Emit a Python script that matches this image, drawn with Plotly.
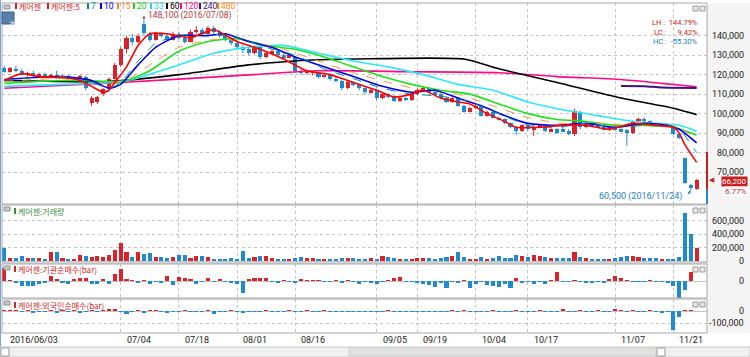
import plotly.graph_objects as go

# ---------------- data (prices in KRW) ----------------
tick_idx = [0, 20, 30, 40, 50, 64, 71, 81, 90, 105, 115]
tick_text = ["2016/06/03", "07/04", "07/18", "08/01", "08/16", "09/05", "09/19",
             "10/04", "10/17", "11/07", "11/21"]

open_k = [123.5,121.5,123,122,120,121,119.5,120.5,119,120,118.5,119.5,118,118.5,119,105.5,106,110,113,118,
          125,133,139,136.5,146,141,138,141,140,138,141,139,137,142,143,141,144,142,140,138,
          136,134,133,131,134,129,131,132,130,129,129,122,121,121,121,119,120,118,117,113,
          116,115,113,111,112,108,110,109,106.5,108,107,110,112,113,111,110,108,106,108,104,
          101,103,104,99,101,98,97,95,93,91,94,92,93,94,91,92,92,91,89.5,101,
          93,95,94,93,92,93,92,91.5,90,96,97.5,96,95,94,94.5,93,89.5,77,63.5,61.5]
high_k = [124.5,124,124.5,123,121.5,122,121,121,120.5,122,120,120,119,120,119.5,109,109,113,118.5,126,
          134,140,141,141,148.1,142,142,142,141,142,142,140,143,145,144,145,145,143,141,139,
          137,135,134,135,134.5,132,133,132.5,131,131,129.5,123,122.5,122,121.5,121,120.5,119,117.5,117,
          116.5,115.5,113.5,113,112.5,111,110.5,109.5,109,108.5,111,113,114,113.5,112,110.5,108.5,108.5,108.5,104.5,
          103.5,105,104.5,101.5,101.5,98.5,97.5,95.5,93.5,94.5,94.5,94,94.5,94.5,92.5,92.5,93.5,92,102.5,101.5,
          95.5,95.5,95,93.5,93.5,93.5,92.5,92,96.5,98,98,96.5,95.5,95,95,93.5,90,77.5,64,66.5]
low_k = [121,121,121.5,119.5,119,119,119,118.5,118,118,118,117.5,117,118,112,104,105,109,112.5,117.5,
         124,131,135,136,140,137,137.5,139,137,137.5,138,136,136.5,141,140,140.5,141,139,137,135,
         133,131,130,130.5,128,128.5,130,129,128,128.5,121,120,120,119.5,118,118.5,117,116,112,112.5,
         114,112,110,110.5,107,107.5,108,106,106,106.5,106.5,109.5,111.5,110.5,109.5,107.5,105.5,105.5,103.5,100.5,
         100.5,102.5,98.5,98.5,97.5,96.5,94.5,92.5,89,90.5,91.5,88.5,92.5,90.5,90.5,89.5,90.5,89,88.5,92,
         92.5,93.5,92.5,91.5,91,91.5,90.5,83.5,89.5,95.5,95.5,94.5,93.5,93,93,89,87,64,60.5,61]
close_k = [121.5,123.5,122,120,121,119.5,120.5,119,120,118.5,119.5,118,118.5,119,113,108,108.5,112.5,118,125,
           133,139,136.5,140,141.5,138,141,140,138,141,139,137,142,143,141,144,142,140,138,136,
           134,133,131,134,129,131,132,130,129,130,122,121,121,121,119,120,118,117,113,116,
           115,113,111,112,108,110,109,106.5,108,107,110,112,113,111,110,108,106,108,104,101,
           103,104,99,101,98,97,95,93,91,94,92,93,94,91,92,90,91,90,101.5,93,
           95,94,93,92,93,92,91,90,96,97.5,96,95,94,94.5,93,89.5,87.5,64.5,62,66.2]

volume_k = [195,50,40,80,40,40,45,35,130,140,45,35,35,90,80,55,80,60,90,165,
            275,130,60,140,105,115,60,55,40,55,90,95,40,70,80,60,20,35,30,40,
            35,150,40,55,70,80,40,35,30,35,45,60,40,50,35,30,20,15,50,40,
            45,30,35,40,35,70,55,40,35,30,15,40,40,40,30,40,60,75,130,55,
            30,30,60,30,40,70,50,45,90,80,60,90,80,60,50,45,40,45,130,60,
            40,35,35,35,30,40,55,80,80,60,50,40,40,30,25,30,60,720,410,200]

inst_k = [40,2,-5,-15,-15,-15,-10,-5,15,5,-5,-10,5,10,10,-8,-8,5,-10,20,
          35,5,3,-5,2,-10,-3,-5,15,-12,12,8,5,-8,-3,10,-2,5,-3,-5,
          -8,-35,5,10,10,8,-3,-5,2,-3,-5,5,3,2,1,-3,-2,3,-5,2,
          -3,-8,-2,-4,-10,-3,3,8,12,-3,-2,-5,-8,-12,-18,-5,-22,-3,-5,2,
          -20,-8,-2,-12,-15,-18,-10,-22,10,-5,-3,-8,-3,-10,2,28,-2,-3,2,-3,
          -5,-4,-3,-6,5,15,10,2,-3,-2,-3,2,-3,-2,-5,-15,-51,-27,27,0]

foreign_k = [2,5,8,-3,2,-20,-2,-5,3,-15,5,-5,3,-15,-3,8,-5,3,12,18,
             -2,-22,-3,6,-20,8,5,-3,-18,-5,-3,2,-5,-3,-2,3,-25,-2,-5,3,
             -3,-15,-2,-5,-3,2,-8,-3,-5,5,-2,-3,5,-2,-5,2,-3,-5,-8,-3,
             -5,-3,-5,-2,-3,-5,3,-2,-3,-8,-3,-5,-3,-5,-2,-3,-2,5,-3,2,
             -3,-2,-5,-3,2,-2,-3,-5,2,-3,-2,-3,2,-5,-3,-2,12,-5,-3,2,
             -5,-3,5,-8,-3,18,5,-3,8,-3,-2,5,-3,-15,-5,-155,-45,5,3,0]

# moving averages (knot index, value in K)
ma5_x = [0,3,6,10,13,15,17,18,19,21,23,25,28,32,36,40,44,48,52,56,60,64,67,70,72,75,78,80,83,86,88,92,96,100,104,108,112,115,116,117,119]
ma5_y = [117,120.5,119,118.5,117,114,111,112,116,124,135,141,141,139,143,137,133,128,122,120,116,112,108.5,110,112,108,106,105,100,96,93,93,94,94,92,95,94,93,90,84,75]
ma7_x = [0,5,10,15,18,20,23,26,30,35,40,45,50,55,60,65,70,75,80,85,90,95,100,105,110,114,116,119]
ma7_y = [117,118.5,119,116,113,116,127,136,140,141,139,134,130,123,118,113,110,109,106,100,94,93,95,93,94,94,92,80]
ma10_x = [0,5,10,15,18,20,23,26,30,35,38,42,46,50,55,60,65,70,74,78,82,86,90,95,100,105,110,114,116,119]
ma10_y = [117.5,118.5,119,117,113,115,125,134,140,140,141,137,134,129,124,119,114,111,112,108,104,99,95,94,95,93,95,94,92,85]
ma15_x = [0,10,18,22,26,30,36,42,48,54,60,66,72,78,84,90,96,102,108,114,117,119]
ma15_y = [116.5,118,115.5,119,127,134,138,137,133,127,121,116,112,110,104,98,95,95,94,94,91,87]
ma20_x = [0,10,18,20,25,30,35,40,45,50,55,60,65,70,75,80,85,90,95,100,105,110,115,119]
ma20_y = [115.5,117,116.5,116,122,132,137,138.5,135,133,129,124,119,115,112,110,105,100,97,96,94,94,93,89]
ma33_x = [0,10,18,22,30,36,42,48,54,60,66,72,78,84,90,96,102,108,112,116,119]
ma33_y = [114,115,116,117.5,125,131,134,135,131,127,124,120,115,112,106,102,99,96,95,94,91]
ma60_x = [0,18,30,42,53,60,79,85,95,106,113,116,119]
ma60_y = [117,116.5,120,125,127.5,128,128,123,116,108,104,102,99.5]
ma120_x = [0,20,40,54,70,85,95,106,113,119]
ma120_y = [113,116,119.5,122,121.5,121,119,117.5,115.5,113.8]
ma240_x = [106,110,113,119]
ma240_y = [114.2,114.1,113.4,113.2]

vol_ticks = [0, 200000, 400000, 600000]
price_ticks = [70000, 80000, 90000, 100000, 110000, 120000, 130000, 140000]

# ---------------- helpers ----------------
W, H = 750, 357
def px(x):
    return x / W
def py(y):
    return 1 - y / H

UP = "#d8232a"
DN = "#1f8ad0"
NUMF = "Roboto, Liberation Sans, sans-serif"
KR = "Noto Sans CJK KR"
K = 1000
n = len(close_k)
idx = list(range(n))
o = [v * K for v in open_k]
h = [v * K for v in high_k]
l = [v * K for v in low_k]
c = [v * K for v in close_k]
up = [c[i] >= o[i] for i in idx]
col = [UP if u else DN for u in up]

fig = go.Figure()

# candle wicks and bodies
body_base = [min(o[i], c[i]) for i in idx]
body_h = [max(abs(c[i] - o[i]), 300) for i in idx]
for flag, color in [(True, UP), (False, DN)]:
    wx, wy = [], []
    for i in idx:
        if up[i] == flag:
            wx += [i, i, None]
            wy += [l[i], h[i], None]
    fig.add_trace(go.Scatter(x=wx, y=wy, mode="lines", line=dict(color=color, width=1),
                             xaxis="x", yaxis="y", hoverinfo="skip"))
fig.add_trace(go.Bar(x=idx, y=body_h, base=body_base, marker=dict(color=col, line=dict(width=0)),
                     width=0.7, xaxis="x", yaxis="y"))

def ma(xs, ys, color, dash="solid", width=1.6):
    fig.add_trace(go.Scatter(x=xs, y=[v * K for v in ys], mode="lines",
                             line=dict(color=color, width=width, dash=dash, shape="spline", smoothing=0.6),
                             xaxis="x", yaxis="y", hoverinfo="skip"))

ma(ma120_x, ma120_y, "#ff0a84")
ma(ma240_x, ma240_y, "#3c1478", width=2)
ma(ma60_x, ma60_y, "#000000")
ma(ma33_x, ma33_y, "#2ee6f6")
ma(ma20_x, ma20_y, "#20e020")
ma(ma15_x, ma15_y, "#ff9050", dash="dash", width=1)
ma(ma10_x, ma10_y, "#0000e6")
ma(ma7_x, ma7_y, "#008c8c", dash="dash", width=1)
ma(ma5_x, ma5_y, "#ff0000")

# volume
fig.add_trace(go.Bar(x=idx, y=[v * K for v in volume_k], marker=dict(color=col, line=dict(width=0)),
                     width=0.7, xaxis="x2", yaxis="y2"))
# institutional net buy
fig.add_trace(go.Bar(x=idx, y=[v * K for v in inst_k],
                     marker=dict(color=[UP if v >= 0 else DN for v in inst_k], line=dict(width=0)),
                     width=0.7, xaxis="x3", yaxis="y3"))
# foreign net buy
fig.add_trace(go.Bar(x=idx, y=[v * K for v in foreign_k],
                     marker=dict(color=[UP if v >= 0 else DN for v in foreign_k], line=dict(width=0)),
                     width=0.7, xaxis="x4", yaxis="y4"))

# ---------------- layout ----------------
x_left, x_right = 2, 707
xr = [-0.395, 120.78]
panels = {  # name: (top px, bottom px, range)
    "y": (3, 204, [53650, 156750]),
    "y2": (205, 263, [-29900, 835800]),
    "y3": (264, 298, [-51000, 51000]),
    "y4": (299, 333, [-178900, 97600]),
}
grid = dict(showgrid=True, gridcolor="#c4c4c4", griddash="dot", gridwidth=1)
xcommon = dict(range=xr, domain=[px(x_left), px(x_right)], showticklabels=False, zeroline=False,
               tickvals=tick_idx[1:], ticks="", **grid)
layout = dict(width=W, height=H, margin=dict(l=0, r=0, t=0, b=0), paper_bgcolor="white",
              plot_bgcolor="white", showlegend=False, barmode="overlay", bargap=0,
              font=dict(family=NUMF, size=9, color="#222"))
for name in ["x", "x2", "x3", "x4"]:
    key = "xaxis" if name == "x" else "xaxis" + name[1:]
    yname = "y" if name == "x" else "y" + name[1:]
    d = dict(xcommon, anchor=yname)
    if name != "x":
        d["matches"] = "x"
    layout[key] = d
ytickv = {"y": price_ticks, "y2": vol_ticks[1:], "y3": [], "y4": [-100000]}
for name, (t, b, r) in panels.items():
    key = "yaxis" if name == "y" else "yaxis" + name[1:]
    xname = "x" if name == "y" else "x" + name[1:]
    layout[key] = dict(domain=[py(b), py(t)], range=r, anchor=xname, showticklabels=False,
                       zeroline=(name in ("y3", "y4", "y2")), zerolinecolor="#c4c4c4", zerolinewidth=1,
                       tickvals=ytickv[name], ticks="", **grid)
fig.update_layout(**layout)

shapes = []
ann = []
# right axis background & panel borders
shapes.append(dict(type="rect", xref="paper", yref="paper", x0=px(707), x1=1, y0=py(333), y1=py(3),
                   fillcolor="#f4f4f4", line=dict(width=0), layer="below"))
for name, (t, b, r) in panels.items():
    shapes.append(dict(type="rect", xref="paper", yref="paper", x0=px(2), x1=px(707), y0=py(b), y1=py(t),
                       line=dict(color="#a8a8a8", width=1)))
    for xx in (693, 700):
        shapes.append(dict(type="rect", xref="paper", yref="paper", x0=px(xx), x1=px(xx + 5),
                           y0=py(t + 8), y1=py(t + 3), fillcolor="#e6e6e6", line=dict(color="#9a9a9a", width=1)))
    shapes.append(dict(type="rect", xref="paper", yref="paper", x0=px(4), x1=px(10), y0=py(t + 6), y1=py(t + 2),
                       fillcolor="#c8c8c8", line=dict(color="#909090", width=1)))
# window frame left line
shapes.append(dict(type="line", xref="paper", yref="paper", x0=px(0.5), x1=px(0.5), y0=py(357), y1=1,
                   line=dict(color="#7aa6d6", width=1)))
# bottom scroll bar
shapes.append(dict(type="rect", xref="paper", yref="paper", x0=0, x1=1, y0=0, y1=py(347),
                   fillcolor="#f0f0f0", line=dict(color="#c8c8c8", width=1)))
shapes.append(dict(type="rect", xref="paper", yref="paper", x0=px(349), x1=px(656), y0=py(356), y1=py(348),
                   fillcolor="#e2e2e2", line=dict(color="#d0d0d0", width=1)))
for xx in (1, 657):
    shapes.append(dict(type="rect", xref="paper", yref="paper", x0=px(xx), x1=px(xx + 8), y0=py(356), y1=py(348),
                       fillcolor="white", line=dict(color="#9a9a9a", width=1)))

# price range bar at the right edge of the chart
shapes.append(dict(type="line", xref="paper", yref="y", x0=px(707), x1=px(707), y0=61000, y1=80300,
                   line=dict(color="#c62020", width=2)))
shapes.append(dict(type="line", xref="paper", yref="y", x0=px(707), x1=px(707), y0=53700, y1=61000,
                   line=dict(color="#1f8ad0", width=2)))

# y tick labels (right aligned)
def ylab(val, text, yref):
    ann.append(dict(x=px(746), xref="paper", xanchor="right", y=val, yref=yref, yanchor="middle",
                    text=text, showarrow=False, font=dict(size=9, color="#222")))
for v in price_ticks:
    ylab(v, f"{v:,}", "y")
for v in vol_ticks:
    ylab(v, f"{v:,}", "y2")
ylab(0, "0", "y3")
ylab(0, "0", "y4")
ylab(-100000, "-100,000", "y4")

# x tick labels
for i, t in zip(tick_idx, tick_text):
    ann.append(dict(x=i, xref="x", xanchor="left", xshift=4, y=py(340), yref="paper", yanchor="middle",
                    text=t, showarrow=False, font=dict(size=9, color="#222")))

# legend of main panel
leg = [(15, "케어젠", "#d81c1c"), (47, "케어젠:5", "#d81c1c"), (87, "7", "#008c8c"), (100, "10", "#0000e6"),
       (117, "15", "#ff8040"), (133, "20", "#20d020"), (150, "33", "#20d8f0"), (166, "60", "#000000"),
       (180, "120", "#ff0a84"), (199, "240", "#3c1478"), (217, "480", "#ff8a20")]
for xx, t, cc in leg:
    shapes.append(dict(type="rect", xref="paper", yref="paper", x0=px(xx), x1=px(xx + 2), y0=py(9), y1=py(3),
                       fillcolor=cc, line=dict(width=0)))
    fam = KR if "케" in t else NUMF
    sz = 8 if "케" in t else 8.5
    ann.append(dict(x=px(xx + 3), xref="paper", xanchor="left", y=py(6), yref="paper", yanchor="middle",
                    text=t, showarrow=False, font=dict(family=fam, size=sz, color=cc), borderpad=0))

# sub panel legends
for (yy, t, cc) in [(211, "케어젠:거래량", "#3a8e3a"), (269, "케어젠:기관순매수(bar)", "#d02828"),
                    (305, "케어젠:외국인순매수(bar)", "#d02828")]:
    shapes.append(dict(type="rect", xref="paper", yref="paper", x0=px(14), x1=px(16), y0=py(yy + 3), y1=py(yy - 3),
                       fillcolor=cc, line=dict(width=0)))
    ann.append(dict(x=px(17), xref="paper", xanchor="left", y=py(yy), yref="paper", yanchor="middle",
                    text=t, showarrow=False, font=dict(family=KR, size=8, color=cc), borderpad=0))

# "호" button
shapes.append(dict(type="rect", xref="paper", yref="paper", x0=px(2), x1=px(14), y0=py(24), y1=py(12),
                   fillcolor="#5a7fa8", line=dict(color="#3d5f86", width=1)))
ann.append(dict(x=px(8), xref="paper", y=py(18), yref="paper", text="호", showarrow=False,
                font=dict(family=KR, size=8, color="white"), borderpad=0))

# high / low markers
hi_i = max(idx, key=lambda i: h[i])
lo_i = min(idx, key=lambda i: l[i])
ann.append(dict(x=hi_i, y=h[hi_i], xref="x", yref="y", ax=0, ay=-5, showarrow=True, arrowhead=2,
                arrowsize=0.6, arrowwidth=1, arrowcolor="#b03a3a", text=""))
ann.append(dict(x=hi_i, xref="x", xanchor="left", xshift=3, y=h[hi_i], yref="y", yshift=4, yanchor="middle",
                text="148,100 (2016/07/08)", showarrow=False, font=dict(size=8.5, color="#b03a3a"), borderpad=0))
ann.append(dict(x=lo_i, y=l[lo_i], xref="x", yref="y", ax=-4, ay=5, showarrow=True, arrowhead=2,
                arrowsize=0.6, arrowwidth=1, arrowcolor="#1f7fc0", text=""))
ann.append(dict(x=lo_i, xref="x", xanchor="right", xshift=-8, y=l[lo_i], yref="y", yshift=-6, yanchor="middle",
                text="60,500 (2016/11/24)", showarrow=False, font=dict(size=9, color="#1f7fc0"), borderpad=0))

# LH / LC / HC
for yy, t, cc in [(23, "LH :  144.79%", "#c82020"), (32, "LC :      9.42%", "#c82020"),
                  (41, "HC :  -55.30%", "#1f7fc0")]:
    ann.append(dict(x=px(699), xref="paper", xanchor="right", y=py(yy), yref="paper", yanchor="middle",
                    text=t, showarrow=False, font=dict(size=7.5, color=cc), borderpad=0))

# current price tags
last = c[-1]
ann.append(dict(x=px(748), xref="paper", xanchor="right", y=last, yshift=-2, yref="y", yanchor="middle",
                text="66,200", showarrow=False, bgcolor="#c81e1e", font=dict(size=8, color="white"), borderpad=0))
ann.append(dict(x=px(748), xref="paper", xanchor="right", y=last, yshift=-12, yref="y", yanchor="middle",
                text="6.77%", showarrow=False, bgcolor="white",
                font=dict(size=8, color="#c81e1e"), borderpad=0))
ann.append(dict(x=px(712), xref="paper", xanchor="center", y=last, yref="y", yanchor="middle", text="◀",
                showarrow=False, font=dict(size=7, color="#c81e1e", family="DejaVu Sans"), borderpad=0))

fig.update_layout(shapes=shapes, annotations=ann)
fig.write_html("out.html", config={"displayModeBar": False},
               post_script="document.body.style.margin='0';document.body.style.overflow='hidden';")
